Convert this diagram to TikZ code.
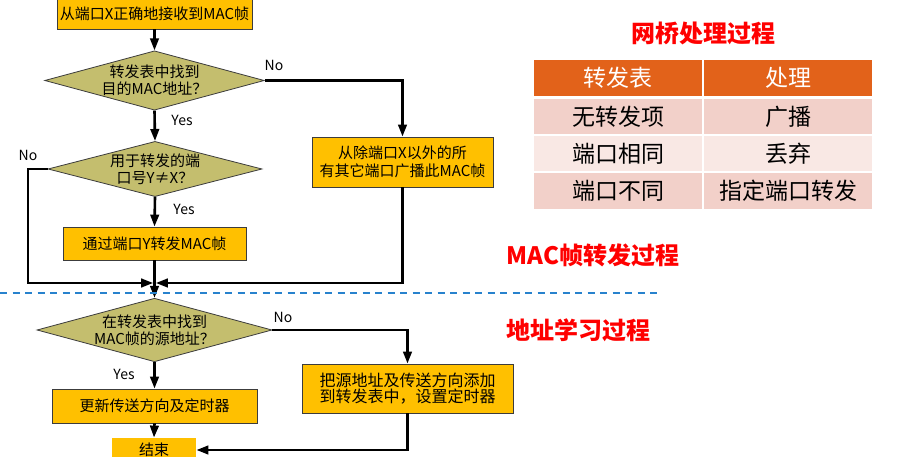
\documentclass[tikz,border=0pt]{standalone}
\usepackage{fontspec}
\setmainfont{Noto Sans CJK SC}
\usepackage{xcolor}
\usepackage{tikz}
\usetikzlibrary{arrows.meta}
\usetikzlibrary{shapes.geometric}

\definecolor{BoxGold}{RGB}{255,192,0}
\definecolor{TestOlive}{RGB}{196,190,110}
\definecolor{BoxEdge}{RGB}{60,60,60}
\definecolor{TitleRed}{RGB}{255,0,0}
\definecolor{SplitBlue}{RGB}{40,130,205}
\definecolor{HeadOrange}{RGB}{226,98,26}
\definecolor{RowPink}{RGB}{242,208,201}
\definecolor{RowPale}{RGB}{249,232,228}

\begin{document}
\begin{tikzpicture}[x = 1pt, y = -1pt,
    procbox/.style = {rectangle, fill = BoxGold, draw = BoxEdge, line width = 0.8pt, inner sep = 0pt, align = center, font = \fontsize{15}{18}\selectfont},
    testbox/.style = {diamond, fill = TestOlive, draw = BoxEdge, line width = 0.8pt, inner sep = 0pt, aspect = 3.7, align = center, font = \fontsize{15}{17}\selectfont},
    flow/.style = {line width = 2.6pt, -{Triangle[length = 12pt, width = 8.5pt]}},
    answer/.style = {font = \fontsize{14}{14}\selectfont},
    heading/.style = {text = TitleRed, font = \fontsize{24}{24}\selectfont\bfseries},
    cell/.style = {rectangle, minimum width = 170pt, minimum height = 37pt, draw = white, line width = 1.2pt, inner sep = 0pt, font = \fontsize{23}{23}\selectfont}]
    \useasboundingbox (0, 0) rectangle (903, 457);
    \fill [white] (0, 0) rectangle (903, 457);
    % forwarding part
    \node [procbox, minimum width = 195pt, minimum height = 30pt] (recv) at (154.5, 14) {从端口X正确地接收到MAC帧};
    \node [testbox, minimum width = 215pt, minimum height = 57pt] (finddst) at (154.5, 80.5) {转发表中找到\\目的MAC地址？};
    \node [testbox, minimum width = 214pt, minimum height = 52pt] (portcheck) at (155, 169) {用于转发的端\\口号Y≠X？};
    \node [procbox, minimum width = 181pt, minimum height = 50pt] (flood) at (402.5, 162) {从除端口X以外的所\\有其它端口广播此MAC帧};
    \node [procbox, minimum width = 183pt, minimum height = 33pt] (sendy) at (154.5, 243.5) {通过端口Y转发MAC帧};
    % learning part
    \node [testbox, minimum width = 234pt, minimum height = 54pt] (findsrc) at (154.5, 330) {在转发表中找到\\MAC帧的源地址？};
    \node [procbox, minimum width = 211pt, minimum height = 49pt, font = \fontsize{16}{16}\selectfont] (addsrc) at (407.5, 388.5) {把源地址及传送方向添加\\到转发表中，设置定时器};
    \node [procbox, minimum width = 205pt, minimum height = 34pt] (refresh) at (154.5, 406) {更新传送方向及定时器};
    \node [procbox, draw = none, minimum width = 84pt, minimum height = 24pt] (finish) at (154, 450) {结束};
    \coordinate (merge) at (154.5, 283);
    \coordinate (detour) at (28, 283);
    \draw [flow] (recv) -- (finddst);
    \draw [flow] (finddst.east) -| (flood.north);
    \draw [flow] (finddst.south) -- (portcheck.north);
    \draw [flow] (portcheck.south) -- (sendy.north);
    \draw [flow, shorten > = 1.3pt] (portcheck.west) -| (detour) -- (merge);
    \draw [flow, shorten > = 1.3pt] (flood.south) |- (merge);
    \draw [flow] (sendy.south) -- (findsrc.north);
    \draw [flow] (findsrc.east) -| (addsrc.north);
    \draw [flow] (findsrc.south) -- (refresh.north);
    \draw [flow] (refresh.south) -- (finish.north);
    \draw [flow] (addsrc.south) |- (finish.east);
    \node [answer] (nodst) at (274, 65) {No};
    \node [answer] (yesdst) at (182, 120) {Yes};
    \node [answer] (noport) at (28, 155) {No};
    \node [answer] (yesport) at (184, 209) {Yes};
    \node [answer] (nosrc) at (283, 317) {No};
    \node [answer] (yessrc) at (124, 374) {Yes};
    \draw [SplitBlue, line width = 2pt, dash pattern = on 7pt off 5.5pt] (0, 293) -- (658, 293);
    % titles
    \node [heading] (bridgetitle) at (703, 33) {网桥处理过程};
    \node [heading, anchor = west] (fwdtitle) at (503, 255) {MAC帧转发过程};
    \node [heading, anchor = west] (learntitle) at (503, 330) {地址学习过程};
    % table
    \node [cell, fill = HeadOrange, text = white] (headtab) at (618, 78) {转发表};
    \node [cell, fill = HeadOrange, text = white] (headact) at (788, 78) {处理};
    \node [cell, fill = RowPink] (noentry) at (618, 116.5) {无转发项};
    \node [cell, fill = RowPink] (noentryact) at (788, 116.5) {广播};
    \node [cell, fill = RowPale] (sameport) at (618, 153.5) {端口相同};
    \node [cell, fill = RowPale] (sameportact) at (788, 153.5) {丢弃};
    \node [cell, fill = RowPink] (diffport) at (618, 191) {端口不同};
    \node [cell, fill = RowPink] (diffportact) at (788, 191) {指定端口转发};
\end{tikzpicture}
\end{document}
